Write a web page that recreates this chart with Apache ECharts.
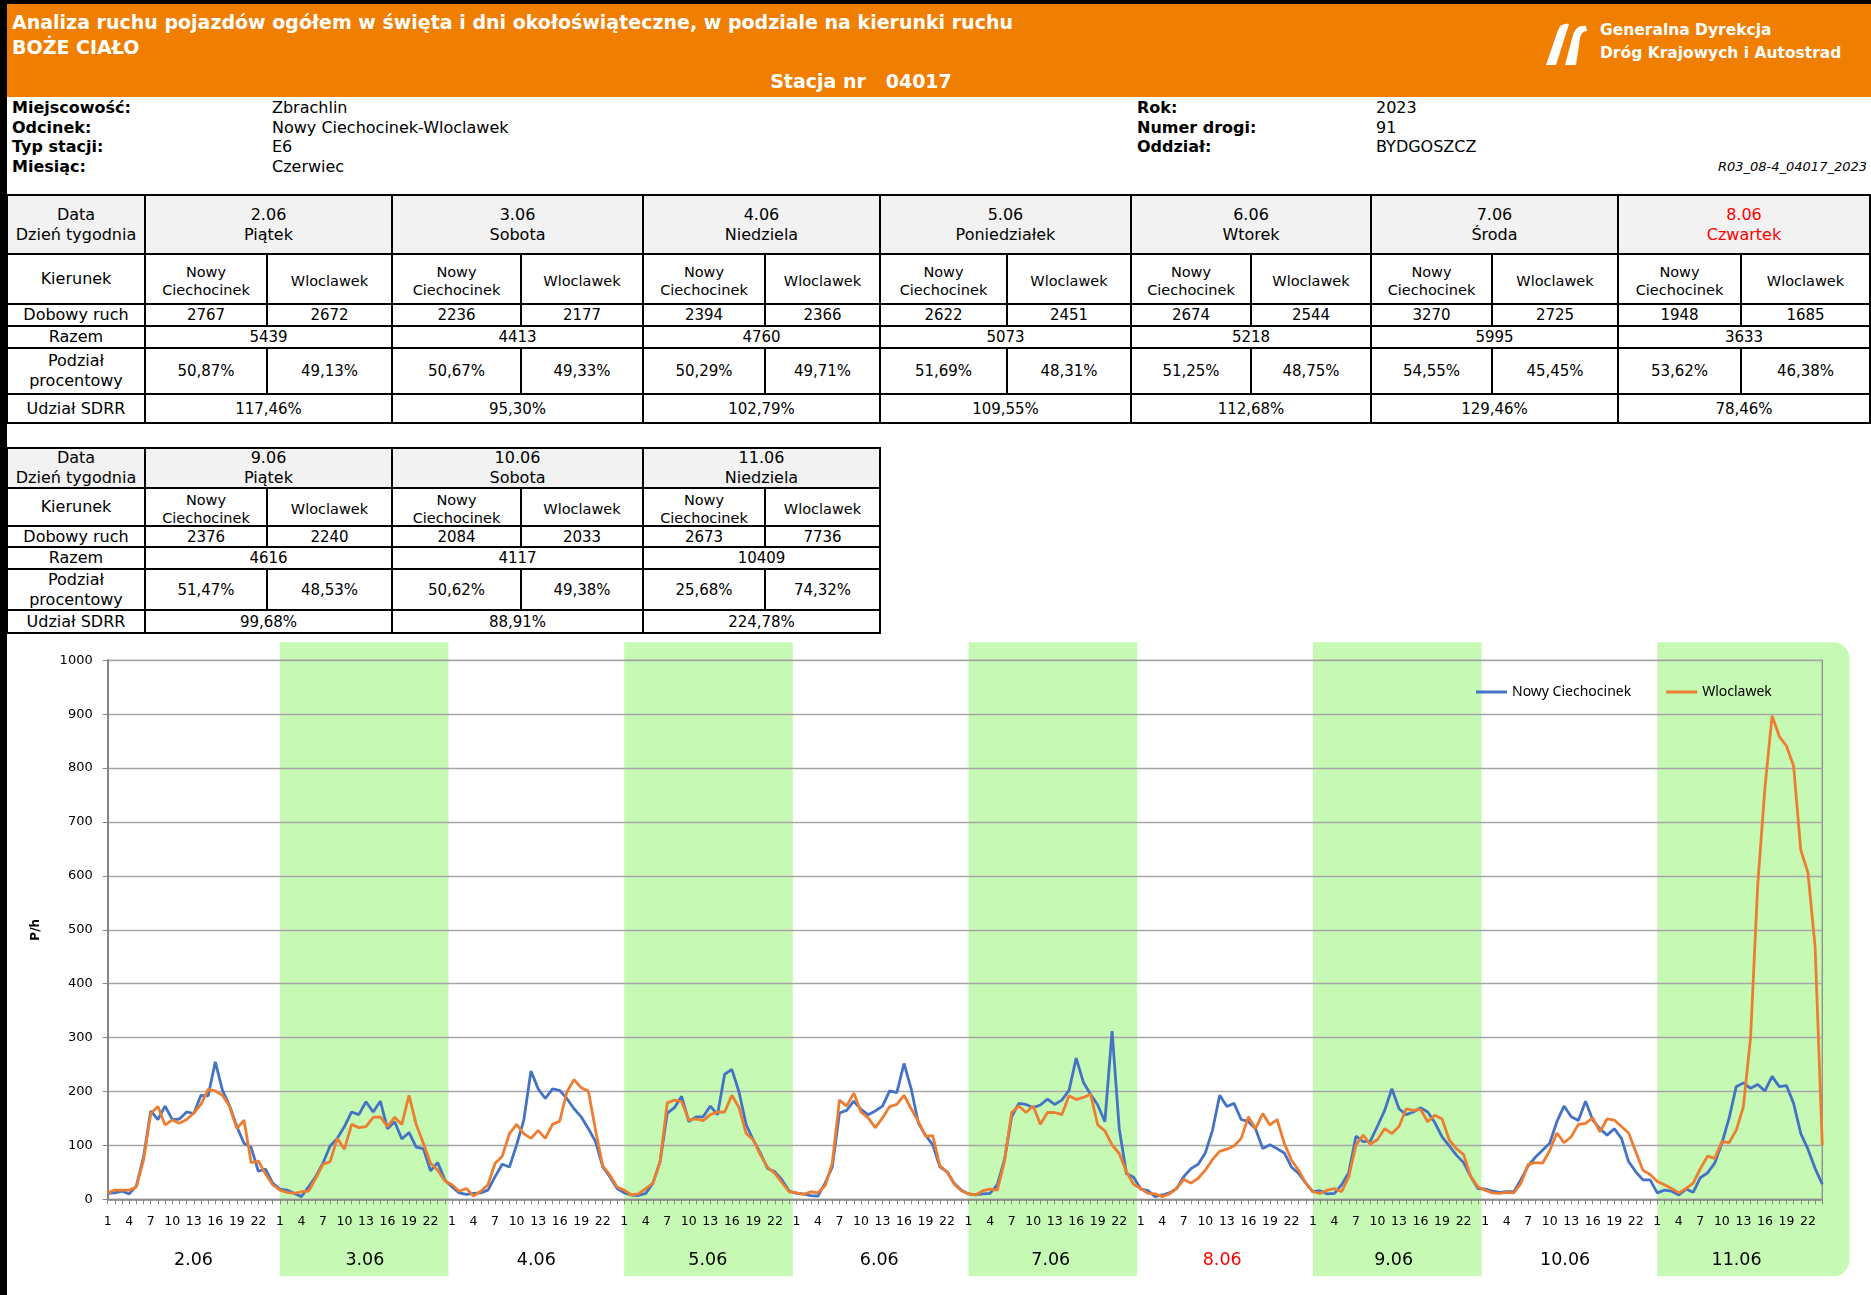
<!DOCTYPE html>
<html>
<head>
<meta charset="utf-8">
<title>Analiza ruchu - Boże Ciało - Stacja 04017</title>
<script src="https://cdn.jsdelivr.net/npm/echarts@6.0.0/dist/echarts.min.js"></script>
<style>
  body { margin: 0; background: #fff; }
  #page { position: relative; width: 1871px; height: 1295px; overflow: hidden;
          font-family: "DejaVu Sans", Verdana, sans-serif; color: #000; background: #fff; }
  .abs { position: absolute; }
  #topbar { left: 0; top: 0; width: 1871px; height: 4px; background: #000; }
  #leftbar { left: 0; top: 0; width: 7px; height: 1295px; background: #000; z-index: 5; }
  #header { left: 7px; top: 4px; width: 1864px; height: 93px; background: #F07E00; color: #fff; font-weight: bold; }
  .title { font-size: 19px; line-height: 24px; white-space: nowrap; }
  .info { font-size: 16px; line-height: 19.6px; white-space: nowrap; }
  .info b { font-weight: bold; }
  .cell { position: absolute; box-sizing: border-box; border-right: 2px solid #000; border-bottom: 2px solid #000;
          display: flex; align-items: center; justify-content: center; text-align: center;
          font-size: 16px; line-height: 20px; white-space: nowrap; overflow: visible; }
  .hdr { background: #F2F2F2; }
  .num { font-size: 15px; }
  .small { font-size: 14.5px; line-height: 18px; padding-top: 4px; }
  .red { color: #FF0000; }
  #chart { position: absolute; left: 8px; top: 634px; width: 1863px; height: 661px; }
</style>
</head>
<body>
<div id="page">
  <div id="header" class="abs">
    <div class="abs title" style="left:5px; top:6px;">Analiza ruchu pojazdów ogółem w święta i dni okołoświąteczne, w podziale na kierunki ruchu</div>
    <div class="abs title" style="left:5px; top:31px;">BOŻE CIAŁO</div>
    <div class="abs title" style="left:654px; top:65px; width:400px; text-align:center; white-space:pre;">Stacja nr   04017</div>
    <svg class="abs" style="left:1536px; top:17px;" width="46" height="46" viewBox="0 0 46 46">
      <path d="M3 44 L15 9 C17 4 21 2 26 3 L13 44 Z" fill="#fff"/>
      <path d="M22 44 L30 14 C32 7 37 4 43 5 L44 10 C40 10 38 13 37 17 L33 44 Z" fill="#fff"/>
    </svg>
    <div class="abs" style="left:1593px; top:15px; font-size:15.5px; line-height:23px; white-space:nowrap;">Generalna Dyrekcja<br>Dróg Krajowych i Autostrad</div>
  </div>
  <div id="topbar" class="abs"></div>
  <div id="leftbar" class="abs"></div>

  <div class="abs info" style="left:12px; top:98px;"><b>Miejscowość:</b><br><b>Odcinek:</b><br><b>Typ stacji:</b><br><b>Miesiąc:</b></div>
  <div class="abs info" style="left:272px; top:98px;">Zbrachlin<br>Nowy Ciechocinek-Wloclawek<br>E6<br>Czerwiec</div>
  <div class="abs info" style="left:1137px; top:98px;"><b>Rok:</b><br><b>Numer drogi:</b><br><b>Oddział:</b></div>
  <div class="abs info" style="left:1376px; top:98px;">2023<br>91<br>BYDGOSZCZ</div>
  <div class="abs" style="right:4px; top:159px; font-size:13px; font-style:italic; white-space:nowrap;">R03_08-4_04017_2023</div>

  <div id="tables"></div>
  <div id="chart"></div>
</div>

<script>
// dni pomiaru
const dates = ['2.06', '3.06', '4.06', '5.06', '6.06', '7.06', '8.06', '9.06', '10.06', '11.06'];
const weekdays = ['Piątek', 'Sobota', 'Niedziela', 'Poniedziałek', 'Wtorek', 'Środa', 'Czwartek', 'Piątek', 'Sobota', 'Niedziela'];
const holidayDate = '8.06';
const greenDates = ['3.06', '5.06', '7.06', '9.06', '11.06'];

// tabela - ruch dobowy
const dailyNowyCiechocinek = [2767, 2236, 2394, 2622, 2674, 3270, 1948, 2376, 2084, 2673];
const dailyWloclawek = [2672, 2177, 2366, 2451, 2544, 2725, 1685, 2240, 2033, 7736];
const dailyTotal = [5439, 4413, 4760, 5073, 5218, 5995, 3633, 4616, 4117, 10409];
const shareNowyCiechocinek = ['50,87%', '50,67%', '50,29%', '51,69%', '51,25%', '54,55%', '53,62%', '51,47%', '50,62%', '25,68%'];
const shareWloclawek = ['49,13%', '49,33%', '49,71%', '48,31%', '48,75%', '45,45%', '46,38%', '48,53%', '49,38%', '74,32%'];
const sdrrShare = ['117,46%', '95,30%', '102,79%', '109,55%', '112,68%', '129,46%', '78,46%', '99,68%', '88,91%', '224,78%'];

// wykres - etykiety godzin
const hourTickLabels = [1, 4, 7, 10, 13, 16, 19, 22];

// ruch godzinowy, kierunek Nowy Ciechocinek (godz. 1-24 dla kolejnych dni)
const hourlyNowyCiechocinek = [
  [11, 12, 15, 10, 25, 79, 164, 148, 173, 148, 149, 162, 159, 193, 192, 255, 202, 173, 135, 104, 96, 52, 56, 30],
  [19, 17, 11, 5, 23, 42, 67, 99, 113, 135, 162, 157, 181, 162, 182, 131, 144, 112, 124, 97, 94, 53, 68, 36],
  [23, 12, 9, 11, 12, 17, 42, 65, 60, 101, 147, 238, 205, 187, 205, 202, 187, 168, 153, 131, 107, 60, 42, 20],
  [12, 8, 7, 11, 30, 70, 160, 170, 191, 144, 153, 153, 173, 157, 232, 241, 199, 138, 110, 85, 57, 51, 36, 15],
  [11, 10, 7, 6, 30, 60, 160, 165, 182, 167, 157, 164, 173, 201, 198, 252, 205, 141, 119, 101, 60, 51, 30, 17],
  [10, 8, 10, 11, 27, 73, 153, 178, 176, 170, 175, 186, 176, 184, 202, 262, 217, 195, 175, 144, 312, 131, 48, 41],
  [19, 16, 5, 8, 12, 20, 42, 57, 65, 86, 128, 193, 172, 178, 148, 144, 131, 94, 101, 94, 86, 60, 48, 30],
  [14, 16, 10, 11, 27, 50, 117, 107, 108, 136, 165, 205, 168, 157, 162, 170, 162, 142, 116, 99, 82, 68, 42, 20],
  [19, 15, 13, 14, 14, 37, 62, 78, 91, 104, 144, 173, 153, 146, 182, 147, 131, 119, 131, 113, 70, 51, 36, 36],
  [12, 17, 15, 8, 19, 13, 40, 49, 67, 104, 150, 209, 216, 206, 213, 201, 228, 209, 211, 178, 122, 93, 57, 28]
];

// ruch godzinowy, kierunek Wloclawek
const hourlyWloclawek = [
  [12, 17, 17, 17, 23, 73, 159, 172, 138, 147, 141, 148, 160, 176, 204, 201, 193, 172, 131, 147, 68, 71, 47, 27],
  [17, 13, 11, 14, 15, 39, 65, 70, 113, 93, 139, 133, 135, 152, 153, 135, 152, 139, 193, 139, 104, 67, 54, 34],
  [27, 15, 20, 6, 15, 27, 67, 80, 122, 139, 122, 113, 128, 113, 139, 145, 199, 222, 207, 201, 128, 62, 45, 23],
  [17, 8, 10, 20, 30, 70, 179, 184, 181, 147, 149, 146, 157, 162, 162, 193, 170, 122, 110, 82, 59, 48, 31, 14],
  [12, 9, 14, 12, 25, 67, 184, 173, 197, 162, 151, 133, 151, 172, 176, 193, 168, 144, 117, 118, 62, 51, 28, 16],
  [10, 8, 16, 19, 17, 70, 161, 173, 161, 173, 139, 161, 161, 157, 192, 185, 189, 195, 138, 127, 101, 85, 51, 28],
  [20, 11, 10, 5, 10, 20, 37, 30, 39, 54, 74, 89, 93, 99, 113, 153, 131, 159, 138, 148, 104, 73, 54, 30],
  [14, 11, 17, 20, 14, 42, 101, 119, 102, 111, 131, 122, 135, 168, 165, 167, 144, 156, 149, 110, 94, 83, 42, 23],
  [17, 12, 11, 13, 12, 30, 65, 68, 67, 90, 123, 105, 116, 139, 141, 151, 125, 149, 147, 135, 123, 88, 54, 46],
  [33, 27, 20, 12, 20, 30, 57, 80, 76, 107, 105, 128, 172, 300, 584, 763, 897, 859, 841, 804, 648, 606, 468, 100]
];

// ---------- tabele ----------
const tablesEl = document.getElementById('tables');

function cell(x0, y0, x1, y1, html, cls) {
  const d = document.createElement('div');
  d.className = 'cell ' + (cls || '');
  d.style.left = x0 + 'px';
  d.style.top = y0 + 'px';
  d.style.width = (x1 - x0) + 'px';
  d.style.height = (y1 - y0) + 'px';
  d.innerHTML = html;
  tablesEl.appendChild(d);
}

function frame(x0, y0, x1, y1) {
  const top = document.createElement('div');
  top.className = 'abs';
  top.style.cssText = `left:${x0 - 2}px;top:${y0 - 2}px;width:${x1 - x0 + 2}px;height:2px;background:#000;`;
  tablesEl.appendChild(top);
  const left = document.createElement('div');
  left.className = 'abs';
  left.style.cssText = `left:${x0 - 2}px;top:${y0 - 2}px;width:2px;height:${y1 - y0 + 2}px;background:#000;`;
  tablesEl.appendChild(left);
}

function buildTable(xs, ys, dayIdx) {
  frame(xs[0], ys[0], xs[xs.length - 1], ys[ys.length - 1]);
  cell(xs[0], ys[0], xs[1], ys[1], 'Data<br>Dzień tygodnia', 'hdr');
  cell(xs[0], ys[1], xs[1], ys[2], 'Kierunek');
  cell(xs[0], ys[2], xs[1], ys[3], 'Dobowy ruch');
  cell(xs[0], ys[3], xs[1], ys[4], 'Razem');
  cell(xs[0], ys[4], xs[1], ys[5], 'Podział<br>procentowy');
  cell(xs[0], ys[5], xs[1], ys[6], 'Udział SDRR');
  dayIdx.forEach((d, k) => {
    const a = xs[1 + 2 * k], m = xs[2 + 2 * k], b = xs[3 + 2 * k];
    const red = dates[d] === holidayDate ? ' red' : '';
    cell(a, ys[0], b, ys[1], dates[d] + '<br>' + weekdays[d], 'hdr' + red);
    cell(a, ys[1], m, ys[2], 'Nowy<br>Ciechocinek', 'small');
    cell(m, ys[1], b, ys[2], 'Wloclawek', 'small');
    cell(a, ys[2], m, ys[3], dailyNowyCiechocinek[d], 'num');
    cell(m, ys[2], b, ys[3], dailyWloclawek[d], 'num');
    cell(a, ys[3], b, ys[4], dailyTotal[d], 'num');
    cell(a, ys[4], m, ys[5], shareNowyCiechocinek[d], 'num');
    cell(m, ys[4], b, ys[5], shareWloclawek[d], 'num');
    cell(a, ys[5], b, ys[6], sdrrShare[d], 'num');
  });
}

buildTable([8, 146, 268, 393, 522, 644, 766, 881, 1008, 1132, 1252, 1372, 1493, 1619, 1742, 1871],
           [196, 255, 305, 327, 349, 395, 424], [0, 1, 2, 3, 4, 5, 6]);
buildTable([8, 146, 268, 393, 522, 644, 766, 881],
           [449, 489, 527, 548, 570, 611, 634], [7, 8, 9]);

// ---------- wykres ----------
const perDay = 24;
const ncData = hourlyNowyCiechocinek.flat().map((v, i) => [i, v]);
const wlData = hourlyWloclawek.flat().map((v, i) => [i, v]);
const bandData = greenDates.map(d => [dates.indexOf(d)]);

const myChart = echarts.init(document.getElementById('chart'));
const option = {
  animation: false,
  textStyle: { fontFamily: 'DejaVu Sans' },
  grid: {
    left: 99.7, right: 48.7, top: 26.3, bottom: 95.7,
    show: true, borderColor: '#8C8C8C', borderWidth: 1.3, backgroundColor: 'transparent'
  },
  legend: {
    data: ['Nowy Ciechocinek', 'Wloclawek'],
    left: 1463, top: 46,
    icon: 'rect', itemWidth: 31, itemHeight: 3, itemGap: 35,
    textStyle: { fontFamily: 'Noto Sans', fontSize: 14, color: '#000' }
  },
  xAxis: [
    {
      type: 'value', min: 0, max: dates.length * perDay - 1, interval: 1,
      axisLine: { lineStyle: { color: '#868686', width: 1.5 } },
      axisTick: { show: true, length: 5, lineStyle: { color: '#868686', width: 1 } },
      axisLabel: {
        margin: 16, fontSize: 12.5, color: '#000',
        formatter: v => {
          const h = (v % perDay) + 1;
          return hourTickLabels.includes(h) ? String(h) : '';
        }
      },
      splitLine: { show: false }
    },
    {
      type: 'category', position: 'bottom', offset: 44,
      data: dates.map(d => d === holidayDate ? { value: d, textStyle: { color: '#FF0000' } } : d),
      axisLine: { show: false }, axisTick: { show: false }, splitLine: { show: false },
      axisLabel: { interval: 0, margin: 8, fontSize: 17.5, color: '#000' }
    }
  ],
  yAxis: {
    type: 'value', min: 0, max: 1000, interval: 100,
    name: 'P/h', nameLocation: 'middle', nameGap: 66, nameRotate: 90,
    nameTextStyle: { fontWeight: 'bold', fontSize: 12, color: '#000' },
    axisLine: { show: true, lineStyle: { color: '#868686', width: 2 } },
    axisTick: { show: true, length: 5, lineStyle: { color: '#868686' } },
    axisLabel: { margin: 15, fontSize: 13, color: '#000', formatter: v => String(v) },
    splitLine: { lineStyle: { color: '#A6A6A6', width: 1.3 } }
  },
  series: [
    {
      type: 'custom', silent: true, z: -1, clip: false,
      xAxisIndex: 0, yAxisIndex: 0,
      data: bandData,
      renderItem: (params, api) => {
        const d = api.value(0);
        const cs = params.coordSys;
        const x0 = api.coord([d * perDay, 0])[0];
        const isLast = d === dates.length - 1;
        const x1 = isLast ? cs.x + cs.width + 27 : api.coord([d * perDay + 23.5, 0])[0];
        return {
          type: 'rect',
          shape: { x: x0, y: cs.y - 18, width: x1 - x0, height: cs.height + 18 + 77, r: isLast ? [0, 16, 16, 0] : 0 },
          style: { fill: '#C6F9B4' }
        };
      }
    },
    {
      name: 'Nowy Ciechocinek', type: 'line', data: ncData,
      symbol: 'none', color: '#4472C4',
      lineStyle: { width: 2.8, color: '#4472C4' }
    },
    {
      name: 'Wloclawek', type: 'line', data: wlData,
      symbol: 'none', color: '#ED7D31',
      lineStyle: { width: 2.8, color: '#ED7D31' }
    }
  ]
};
myChart.setOption(option);
window.addEventListener('resize', function () {
  myChart.resize();
});
</script>
</body>
</html>
